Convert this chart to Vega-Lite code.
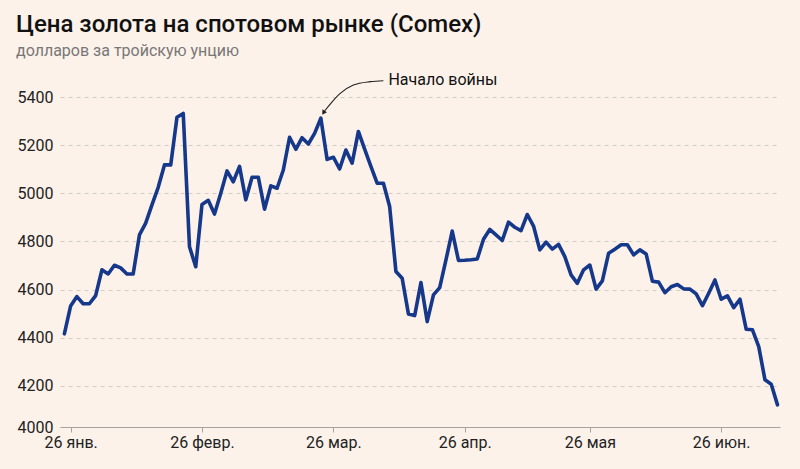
{
  "$schema": "https://vega.github.io/schema/vega-lite/v6.json",
  "width": 720,
  "height": 361,
  "autosize": {"type": "none"},
  "padding": {"left": 60, "top": 66, "right": 20, "bottom": 42},
  "background": "#fdf2ea",
  "config": {"view": {"stroke": null}, "font": "Roboto"},
  "title": {
    "text": "Цена золота на спотовом рынке (Comex)",
    "subtitle": "долларов за тройскую унцию",
    "anchor": "start",
    "frame": "group",
    "dx": -44,
    "offset": 7,
    "font": "Roboto",
    "fontSize": 24,
    "fontWeight": 500,
    "color": "#111111",
    "subtitleFont": "Roboto",
    "subtitleFontSize": 16,
    "subtitleColor": "#777777",
    "subtitlePadding": 6
  },
  "datasets": {
    "gold": [
      {"i": 0, "price": 4416}, {"i": 1, "price": 4532}, {"i": 2, "price": 4571}, {"i": 3, "price": 4541},
      {"i": 4, "price": 4541}, {"i": 5, "price": 4575}, {"i": 6, "price": 4682}, {"i": 7, "price": 4665},
      {"i": 8, "price": 4701}, {"i": 9, "price": 4690}, {"i": 10, "price": 4665}, {"i": 11, "price": 4665},
      {"i": 12, "price": 4827}, {"i": 13, "price": 4876}, {"i": 14, "price": 4952}, {"i": 15, "price": 5025},
      {"i": 16, "price": 5118}, {"i": 17, "price": 5118}, {"i": 18, "price": 5316}, {"i": 19, "price": 5332},
      {"i": 20, "price": 4778}, {"i": 21, "price": 4695}, {"i": 22, "price": 4954}, {"i": 23, "price": 4971},
      {"i": 24, "price": 4914}, {"i": 25, "price": 5000}, {"i": 26, "price": 5093}, {"i": 27, "price": 5048},
      {"i": 28, "price": 5112}, {"i": 29, "price": 4973}, {"i": 30, "price": 5067}, {"i": 31, "price": 5067},
      {"i": 32, "price": 4934}, {"i": 33, "price": 5031}, {"i": 34, "price": 5021}, {"i": 35, "price": 5097},
      {"i": 36, "price": 5233}, {"i": 37, "price": 5183}, {"i": 38, "price": 5231}, {"i": 39, "price": 5205},
      {"i": 40, "price": 5249}, {"i": 41, "price": 5312}, {"i": 42, "price": 5141}, {"i": 43, "price": 5150},
      {"i": 44, "price": 5101}, {"i": 45, "price": 5180}, {"i": 46, "price": 5125}, {"i": 47, "price": 5257},
      {"i": 48, "price": 5184}, {"i": 49, "price": 5112}, {"i": 50, "price": 5042}, {"i": 51, "price": 5042},
      {"i": 52, "price": 4945}, {"i": 53, "price": 4675}, {"i": 54, "price": 4647}, {"i": 55, "price": 4499},
      {"i": 56, "price": 4492}, {"i": 57, "price": 4629}, {"i": 58, "price": 4467}, {"i": 59, "price": 4578},
      {"i": 60, "price": 4608}, {"i": 61, "price": 4723}, {"i": 62, "price": 4843}, {"i": 63, "price": 4721},
      {"i": 64, "price": 4722}, {"i": 65, "price": 4724}, {"i": 66, "price": 4727}, {"i": 67, "price": 4809},
      {"i": 68, "price": 4850}, {"i": 69, "price": 4827}, {"i": 70, "price": 4804}, {"i": 71, "price": 4880},
      {"i": 72, "price": 4859}, {"i": 73, "price": 4845}, {"i": 74, "price": 4912}, {"i": 75, "price": 4864},
      {"i": 76, "price": 4765}, {"i": 77, "price": 4797}, {"i": 78, "price": 4768}, {"i": 79, "price": 4788},
      {"i": 80, "price": 4737}, {"i": 81, "price": 4661}, {"i": 82, "price": 4626}, {"i": 83, "price": 4682},
      {"i": 84, "price": 4702}, {"i": 85, "price": 4602}, {"i": 86, "price": 4636}, {"i": 87, "price": 4751},
      {"i": 88, "price": 4768}, {"i": 89, "price": 4786}, {"i": 90, "price": 4786}, {"i": 91, "price": 4744},
      {"i": 92, "price": 4765}, {"i": 93, "price": 4748}, {"i": 94, "price": 4635}, {"i": 95, "price": 4631},
      {"i": 96, "price": 4587}, {"i": 97, "price": 4612}, {"i": 98, "price": 4621}, {"i": 99, "price": 4603},
      {"i": 100, "price": 4602}, {"i": 101, "price": 4582}, {"i": 102, "price": 4533}, {"i": 103, "price": 4585},
      {"i": 104, "price": 4640}, {"i": 105, "price": 4560}, {"i": 106, "price": 4574}, {"i": 107, "price": 4525},
      {"i": 108, "price": 4560}, {"i": 109, "price": 4435}, {"i": 110, "price": 4433}, {"i": 111, "price": 4363},
      {"i": 112, "price": 4225}, {"i": 113, "price": 4207}, {"i": 114, "price": 4121}
    ],
    "arrow": [
      {"o": 0, "i": 51.0, "price": 5468},
      {"o": 1, "i": 48.9, "price": 5464},
      {"o": 2, "i": 46.2, "price": 5450},
      {"o": 3, "i": 44.1, "price": 5415},
      {"o": 4, "i": 42.8, "price": 5380},
      {"o": 5, "i": 41.6, "price": 5342}
    ],
    "head": [{"i": 41.42, "price": 5335}],
    "note": [{"i": 51.8, "price": 5471, "label": "Начало войны"}]
  },
  "encoding": {
    "x": {
      "field": "i",
      "type": "quantitative",
      "scale": {"domain": [-0.7, 114.4], "nice": false, "zero": false},
      "axis": {
        "title": null,
        "values": [1, 22, 43, 64, 84, 105],
        "labelExpr": "datum.value == 1 ? '26 янв.' : datum.value == 22 ? '26 февр.' : datum.value == 43 ? '26 мар.' : datum.value == 64 ? '26 апр.' : datum.value == 84 ? '26 мая' : '26 июн.'",
        "grid": false,
        "domainColor": "#a8a29e",
        "tickColor": "#a8a29e",
        "tickSize": 5,
        "labelFontSize": 16,
        "labelColor": "#222222",
        "labelPadding": 2,
        "labelFont": "Roboto"
      }
    },
    "y": {
      "field": "price",
      "type": "quantitative",
      "scale": {"domain": [4029, 5529], "nice": false, "zero": false},
      "axis": {
        "title": null,
        "values": [4029, 4200, 4400, 4600, 4800, 5000, 5200, 5400],
        "labelExpr": "datum.value < 4100 ? '4000' : format(datum.value, 'd')",
        "domain": false,
        "ticks": false,
        "gridColor": "#d3ccc6",
        "gridDash": [4, 4],
        "gridWidth": 1,
        "labelFontSize": 16,
        "labelColor": "#222222",
        "labelPadding": 7,
        "labelFont": "Roboto"
      }
    }
  },
  "layer": [
    {
      "data": {"name": "gold"},
      "mark": {"type": "line", "color": "#15388a", "strokeWidth": 3.6, "strokeJoin": "round", "strokeCap": "round"}
    },
    {
      "data": {"name": "arrow"},
      "mark": {"type": "line", "color": "#222222", "strokeWidth": 1.1, "interpolate": "monotone"},
      "encoding": {"order": {"field": "o", "type": "quantitative"}}
    },
    {
      "data": {"name": "head"},
      "mark": {"type": "point", "shape": "triangle-up", "filled": true, "color": "#222222", "size": 28, "angle": 212, "opacity": 1}
    },
    {
      "data": {"name": "note"},
      "mark": {"type": "text", "align": "left", "baseline": "middle", "fontSize": 16, "color": "#111111", "font": "Roboto"},
      "encoding": {"text": {"field": "label"}}
    }
  ]
}
